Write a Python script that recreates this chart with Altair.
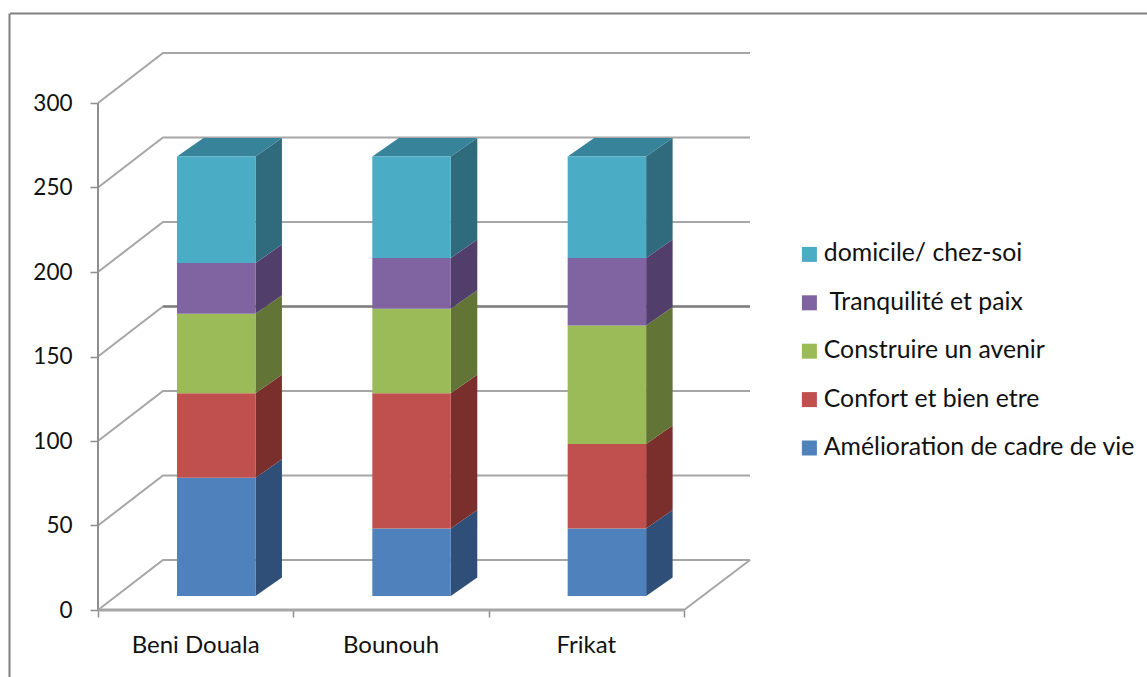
import altair as alt
import pandas as pd

# Survey counts per commune, stacked bottom to top
communes = ["Beni Douala", "Bounouh", "Frikat"]
motifs = [
    "Amélioration de cadre de vie",
    "Confort et bien etre",
    "Construire un avenir",
    "\u200b\u00a0Tranquilité et paix",
    "domicile/ chez-soi",
]
amelioration = [70, 40, 40]
confort = [50, 80, 50]
avenir = [47, 50, 70]
tranquilite = [30, 30, 40]
domicile = [63, 60, 60]
series = [amelioration, confort, avenir, tranquilite, domicile]

front_colors = ["#4f81bd", "#c0504d", "#9bbb59", "#8064a2", "#4bacc6"]
side_colors = ["#2f4f78", "#7a2f2d", "#627537", "#523e6b", "#2f6b7c"]
top_colors = ["#3a6594", "#96403d", "#7a9446", "#644f80", "#37839a"]

# Projection of the fake 3D box, in axis units
PLOT_W, PLOT_H = 652, 556
X_MAX = 3 + 66 / 195.4
Y_MAX = 556 / 1.69
WALL_DX, WALL_DY = 65 / 195.4, 50 / 1.69
BAR_DX, BAR_DY = 26.5 / 195.4, 18.5 / 1.69
BAR_LEFT, BAR_WIDTH = 79 / 195.4, 78.5 / 195.4
BASE = 14 / 1.69

grid_color = "#a6a6a6"
axis_color = "#8e8e8e"
font = "Lato"
size = 24

x_scale = alt.Scale(domain=[0, X_MAX], range=[0, PLOT_W], nice=False, zero=False)
y_scale = alt.Scale(domain=[0, Y_MAX], range=[PLOT_H, 0], nice=False, zero=False)
# Every layer shares these axes: ticks and labels only, the lines are drawn separately
x_axis = alt.Axis(
    values=[0, 1, 2, 3], labels=False, title=None, domain=False, grid=False,
    tickSize=7, tickColor=axis_color, tickWidth=1.5,
)
y_axis = alt.Axis(
    values=list(range(0, 301, 50)), title=None, domain=False, grid=False,
    tickSize=8, tickColor=axis_color, tickWidth=1.5, labelFont=font,
    labelFontSize=22.5, labelColor="#111111", labelPadding=18,
)
X = alt.X("x:Q", scale=x_scale, axis=x_axis)
Y = alt.Y("y:Q", scale=y_scale, axis=y_axis)

front_rows, side_rows, top_rows, wall_rows = [], [], [], []
for c, commune in enumerate(communes):
    xl = c + BAR_LEFT
    xr = xl + BAR_WIDTH
    bottom = BASE
    for s, motif in enumerate(motifs):
        top = bottom + series[s][c]
        front_rows.append({"x": xl, "x2": xr, "y": bottom, "y2": top, "motif": motif})
        face = f"{c}-{s}"
        side_rows += [
            {"x": xr, "y": bottom, "y2": top, "face": face, "fill": side_colors[s]},
            {"x": xr + BAR_DX, "y": bottom + BAR_DY, "y2": top + BAR_DY, "face": face, "fill": side_colors[s]},
        ]
        bottom = top
    fill = top_colors[-1]
    face = f"top-{c}"
    top_rows += [
        {"x": xl, "y": bottom, "y2": bottom, "face": face, "fill": fill},
        {"x": xl + BAR_DX, "y": bottom, "y2": bottom + BAR_DY, "face": face, "fill": fill},
        {"x": xr, "y": bottom, "y2": bottom + BAR_DY, "face": face, "fill": fill},
        {"x": xr + BAR_DX, "y": bottom + BAR_DY, "y2": bottom + BAR_DY, "face": face, "fill": fill},
    ]

# Gridlines wrap from the left wall onto the back wall
for v in range(0, 301, 50):
    wall_rows += [
        {"x": 0, "y": v, "line": f"g{v}"},
        {"x": WALL_DX, "y": v + WALL_DY, "line": f"g{v}"},
        {"x": X_MAX, "y": v + WALL_DY, "line": f"g{v}"},
    ]
wall_rows += [
    {"x": 3, "y": 0, "line": "floor"},
    {"x": X_MAX, "y": WALL_DY, "line": "floor"},
]

# Open frame: only the top and left edges are drawn
frame_top = alt.Chart(pd.DataFrame({"a": [0]})).mark_rule(color="#808080", strokeWidth=2).encode(
    x=alt.value(-88), x2=alt.value(1049), y=alt.value(-40.5)
)
frame_left = alt.Chart(pd.DataFrame({"a": [0]})).mark_rule(color="#808080", strokeWidth=2).encode(
    x=alt.value(-88.5), y=alt.value(-40.5), y2=alt.value(623)
)

walls = alt.Chart(pd.DataFrame(wall_rows)).mark_line(
    color=grid_color, strokeWidth=2
).encode(x=X, y=Y, detail="line:N", order=alt.Order("x:Q"))

# The 150 gridline reads heavier across the back wall
wall_150 = alt.Chart(pd.DataFrame({"x": [WALL_DX], "x2": [X_MAX], "y": [150 + WALL_DY]})).mark_rule(
    color="#808080", strokeWidth=2.5
).encode(x=X, x2="x2:Q", y=Y)

y_axis_line = alt.Chart(pd.DataFrame({"x": [0], "y": [0], "y2": [300]})).mark_rule(
    color=axis_color, strokeWidth=2
).encode(x=X, y=Y, y2="y2:Q")
x_axis_line = alt.Chart(pd.DataFrame({"x": [0], "x2": [3], "y": [0]})).mark_rule(
    color=grid_color, strokeWidth=3
).encode(x=X, x2="x2:Q", y=Y)

bars = alt.Chart(pd.DataFrame(front_rows)).mark_rect().encode(
    x=X, x2="x2:Q", y=Y, y2="y2:Q",
    color=alt.Color("motif:N", scale=alt.Scale(domain=motifs[::-1], range=front_colors[::-1]),
        legend=alt.Legend(
            orient="none", legendX=699, legendY=188, title=None,
            symbolType="square", symbolSize=225, symbolStrokeWidth=0,
            labelFont=font, labelFontSize=24.8, labelColor="#111111", labelLimit=400,
            labelOffset=2, rowPadding=22.4, values=motifs[::-1])),
)
sides = alt.Chart(pd.DataFrame(side_rows)).mark_area().encode(
    x=X, y=Y, y2="y2:Q", detail="face:N", color=alt.Color("fill:N", scale=None)
)
tops = alt.Chart(pd.DataFrame(top_rows)).mark_area().encode(
    x=X, y=Y, y2="y2:Q", detail="face:N", color=alt.Color("fill:N", scale=None)
)
labels = alt.Chart(pd.DataFrame({
    "x": [c + 0.5 for c in range(len(communes))], "y": [0] * len(communes), "commune": communes
})).mark_text(font=font, fontSize=size, color="#111111", dy=36).encode(x=X, y=Y, text="commune:N")

chart = alt.layer(
    frame_top, frame_left, walls, wall_150, y_axis_line, x_axis_line, sides, tops, bars, labels
).resolve_scale(color="independent").properties(
    width=PLOT_W, height=PLOT_H, padding={"left": 98, "top": 54, "right": 397, "bottom": 67},
    autosize=alt.AutoSizeParams(type="none"),
    background="white",
).configure_view(stroke=None)

chart.save("out.html", embed_options={"renderer": "svg", "actions": False})
